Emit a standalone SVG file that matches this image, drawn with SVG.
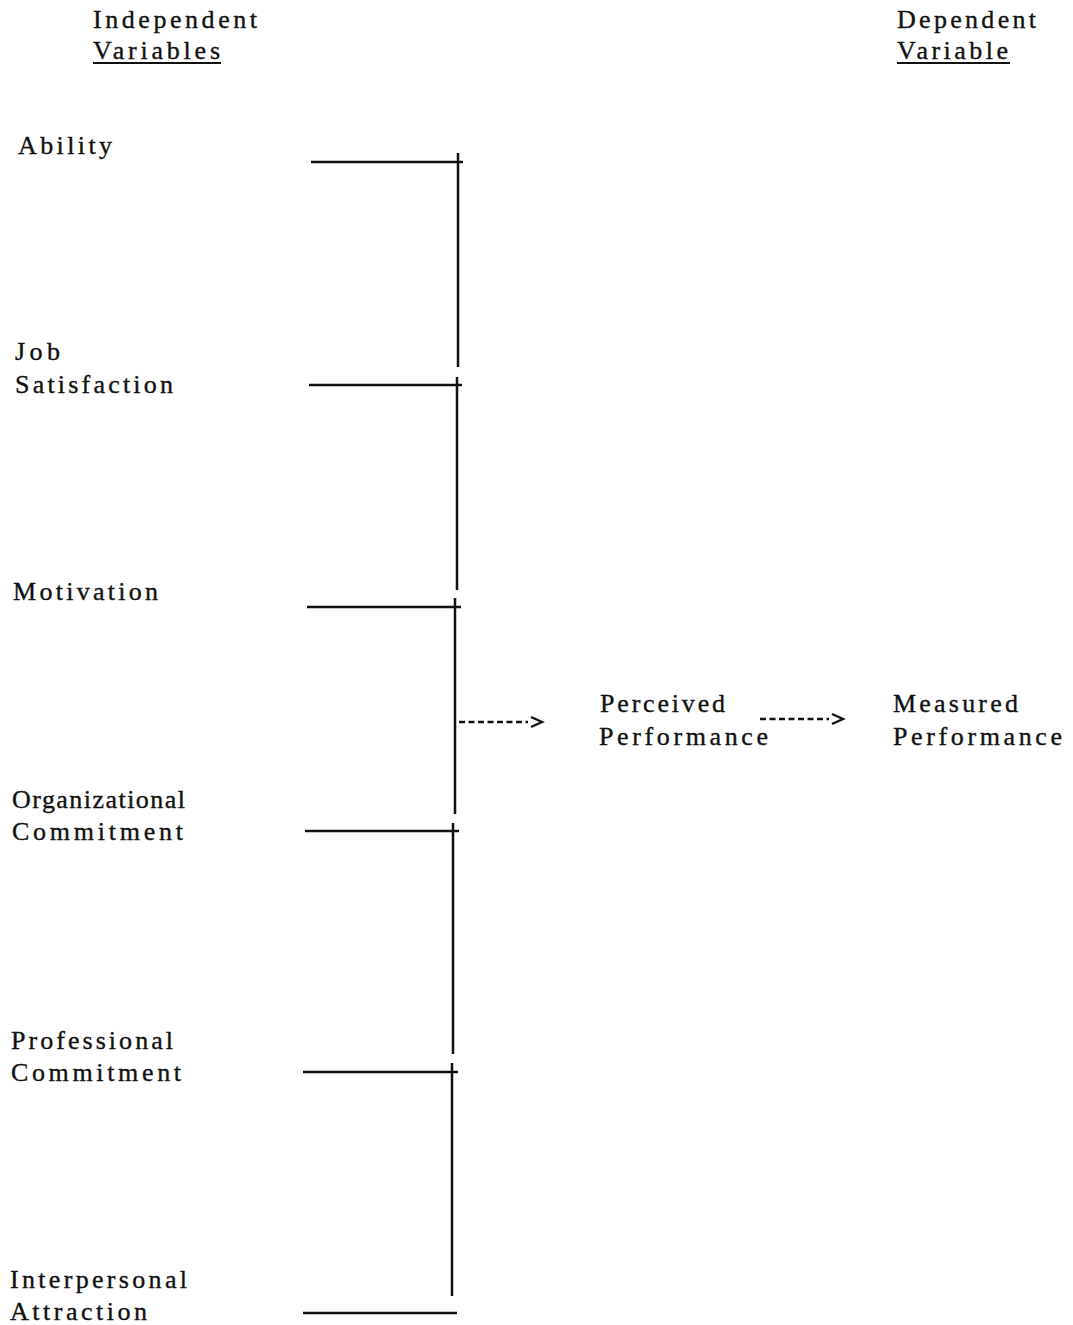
<svg xmlns="http://www.w3.org/2000/svg" width="1073" height="1325" viewBox="0 0 1073 1325">
<style>
  text { font-family: "Liberation Serif", "DejaVu Serif", serif; font-size: 26px; fill: #111; stroke: #111; stroke-width: 0.35; }
  .ln { stroke: #111; stroke-width: 2.5; fill: none; stroke-linecap: butt; }
  .ul { stroke: #111; stroke-width: 2.2; }
  .dash { stroke: #111; stroke-width: 2.4; stroke-dasharray: 6 3.5; fill: none; }
  .head { stroke: #111; stroke-width: 2.4; fill: none; }
</style>
<rect width="1073" height="1325" fill="#fff"/>
<g id="header-independent">
  <text x="93" y="28" textLength="164" lengthAdjust="spacing">Independent</text>
  <text x="93" y="59" textLength="127" lengthAdjust="spacing">Variables</text>
  <line class="ul" x1="93" y1="63" x2="221" y2="63"/>
</g>
<g id="header-dependent">
  <text x="897" y="28" textLength="139" lengthAdjust="spacing">Dependent</text>
  <text x="897" y="59" textLength="111" lengthAdjust="spacing">Variable</text>
  <line class="ul" x1="897" y1="63" x2="1010" y2="63"/>
</g>
<g id="node-ability">
  <text x="18" y="154" textLength="94" lengthAdjust="spacing">Ability</text>
</g>
<g id="node-job-satisfaction">
  <text x="15" y="360" textLength="45" lengthAdjust="spacing">Job</text>
  <text x="15" y="393" textLength="158" lengthAdjust="spacing">Satisfaction</text>
</g>
<g id="node-motivation">
  <text x="13" y="600" textLength="145" lengthAdjust="spacing">Motivation</text>
</g>
<g id="node-organizational-commitment">
  <text x="12" y="808" textLength="173" lengthAdjust="spacing">Organizational</text>
  <text x="12" y="840" textLength="171" lengthAdjust="spacing">Commitment</text>
</g>
<g id="node-professional-commitment">
  <text x="11" y="1049" textLength="162" lengthAdjust="spacing">Professional</text>
  <text x="11" y="1081" textLength="170" lengthAdjust="spacing">Commitment</text>
</g>
<g id="node-interpersonal-attraction">
  <text x="10" y="1288" textLength="177" lengthAdjust="spacing">Interpersonal</text>
  <text x="10" y="1320" textLength="137" lengthAdjust="spacing">Attraction</text>
</g>
<g id="node-perceived-performance">
  <text x="600" y="712" textLength="125" lengthAdjust="spacing">Perceived</text>
  <text x="599" y="745" textLength="169" lengthAdjust="spacing">Performance</text>
</g>
<g id="node-measured-performance">
  <text x="893" y="712" textLength="125" lengthAdjust="spacing">Measured</text>
  <text x="893" y="745" textLength="169" lengthAdjust="spacing">Performance</text>
</g>
<g id="connectors">
  <line class="ln" x1="311" y1="162" x2="463" y2="162"/>
  <line class="ln" x1="458" y1="153" x2="458" y2="367"/>
  <line class="ln" x1="309" y1="385" x2="462" y2="385"/>
  <line class="ln" x1="457" y1="377" x2="457" y2="590"/>
  <line class="ln" x1="307" y1="607" x2="461" y2="607"/>
  <line class="ln" x1="455" y1="598" x2="455" y2="814"/>
  <line class="ln" x1="305" y1="831" x2="459" y2="831"/>
  <line class="ln" x1="453" y1="823" x2="453" y2="1054"/>
  <line class="ln" x1="303" y1="1072" x2="458" y2="1072"/>
  <line class="ln" x1="452" y1="1063" x2="452" y2="1296"/>
  <line class="ln" x1="303" y1="1313" x2="457" y2="1313"/>
  <line class="dash" x1="459" y1="722" x2="528" y2="722"/>
  <polyline class="head" points="531,717 542,722 531,727"/>
  <line class="dash" x1="760" y1="719" x2="829" y2="719"/>
  <polyline class="head" points="832,714 843,719 832,724"/>
</g>
</svg>
